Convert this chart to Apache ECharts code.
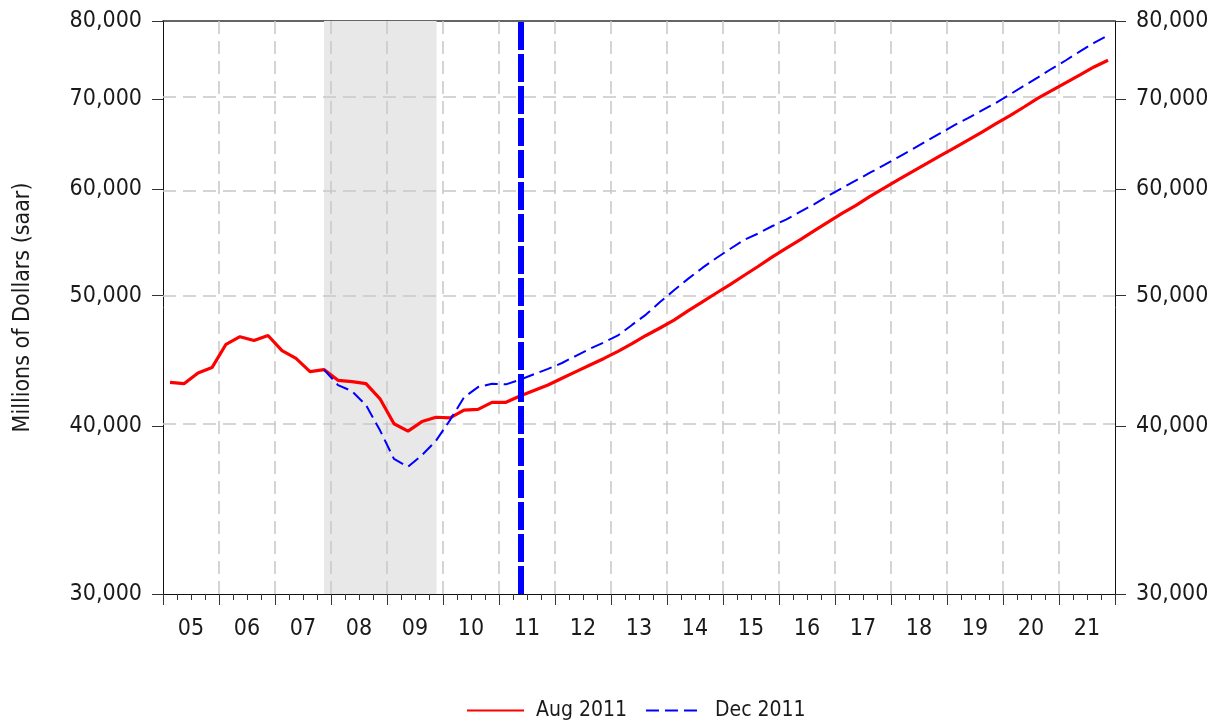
<!DOCTYPE html>
<html>
<head>
<meta charset="utf-8">
<script src="https://cdn.jsdelivr.net/npm/echarts@6/dist/echarts.min.js"></script>
<style>
  html, body { margin: 0; padding: 0; background: #ffffff; }
  #chart { width: 1215px; height: 728px; }
</style>
</head>
<body>
<div id="chart"></div>
<script>
// ---- data ----
var startYear = 2005;               // first quarter = 2005Q1
var endYear = 2022;                 // axis end (end of 2021)
var yearLabels = ['05','06','07','08','09','10','11','12','13','14','15','16','17','18','19','20','21'];
var yTicks = [30000, 40000, 50000, 60000, 70000, 80000];
var seriesNames = ['Aug 2011', 'Dec 2011'];

// Aug 2011 forecast, quarterly 2005Q1 - 2021Q4 (millions of dollars, saar)
var aug2011 = [
  43100, 43000, 43800, 44200,
  46000, 46600, 46300, 46700,
  45500, 44900, 43900, 44050,
  43250, 43150, 43000, 41900,
  40150, 39650, 40300, 40600,
  40550, 41100, 41150, 41650,
  41650, 42100, 42500, 42900,
  43400, 43900, 44400, 44900,
  45450, 46050, 46700, 47300,
  47950, 48700, 49450, 50200,
  50950, 51750, 52550, 53400,
  54200, 55000, 55850, 56700,
  57550, 58350, 59250, 60100,
  60950, 61800, 62650, 63500,
  64350, 65250, 66150, 67100,
  68050, 69050, 70100, 71050,
  72000, 72950, 73950, 74800
];

// Dec 2011 forecast, quarterly 2007Q4 - 2021Q4
var dec2011StartIndex = 11; // 2007Q4
var dec2011 = [
  44050,
  42900, 42450, 41450, 39700,
  37800, 37300, 38050, 39000,
  40400, 42000, 42750, 43000,
  42950, 43300, 43700, 44100,
  44550, 45100, 45650, 46150,
  46700, 47550, 48400, 49450,
  50450, 51450, 52400, 53300,
  54150, 55000, 55600, 56300,
  56950, 57700, 58450, 59300,
  60100, 60900, 61700, 62500,
  63350, 64200, 65100, 66000,
  66900, 67750, 68650, 69550,
  70550, 71600, 72650, 73750,
  74800, 75950, 77050, 78050
];

var recession = [2007.875, 2009.885];   // shaded period (decimal years)
var forecastLine = 2011.375;           // last history quarter marker (2011Q2)

// ---- helpers ----
function qx(i) { return startYear + (i + 0.5) / 4; }   // quarter midpoint on the year axis
function L(v) { return Math.log(v); }                   // log scale transform

var augData = aug2011.map(function (v, i) { return [qx(i), L(v)]; });
var decData = dec2011.map(function (v, i) { return [qx(i + dec2011StartIndex), L(v)]; });

var yMin = L(yTicks[0]), yMax = L(yTicks[yTicks.length - 1]);
var yCustom = yTicks.map(L);
var xLabelValues = yearLabels.map(function (s, i) { return startYear + i + 0.5; });

var FONT = "'Liberation Sans Narrow', 'DejaVu Sans Condensed', 'Arial Narrow', sans-serif";
var TXT = '#1a1a1a';
var GRID_COLOR = '#c8c8c8';

function yFmt(v) {
  var n = Math.round(Math.exp(v) / 1000) * 1000;
  return n.toLocaleString('en-US');
}

var gridLines = [];
yTicks.slice(1, -1).forEach(function (t) { gridLines.push({ yAxis: L(t) }); });
for (var y = startYear + 1; y < endYear; y++) gridLines.push({ xAxis: y });

function yAxisCfg(pos) {
  return {
    type: 'value',
    position: pos,
    min: yMin,
    max: yMax,
    axisLine: { show: true, lineStyle: { color: '#111', width: 1 } },
    axisTick: { show: true, customValues: yCustom, length: 11, lineStyle: { color: '#333' } },
    axisLabel: {
      customValues: yCustom, formatter: yFmt, margin: 21,
      fontFamily: FONT, fontSize: 23, color: TXT
    },
    splitLine: { show: false }
  };
}

var left = yAxisCfg('left');
left.name = 'Millions of Dollars (saar)';
left.nameLocation = 'middle';
left.nameGap = 128;
left.nameRotate = 90;
left.nameTextStyle = { fontFamily: FONT, fontSize: 23, color: TXT };

var option = {
  backgroundColor: '#ffffff',
  animation: false,
  grid: { left: 163, right: 100, top: 21, bottom: 134, containLabel: false, outerBoundsMode: 'none' },
  legend: {
    top: 695,
    left: 461,
    itemWidth: 57,
    itemHeight: 14,
    itemGap: 18,
    itemStyle: { opacity: 0 },
    textStyle: { fontFamily: FONT, fontSize: 21, color: TXT, padding: [0, 0, 0, 7] },
    data: seriesNames
  },
  xAxis: [{
    type: 'value',
    min: startYear,
    max: endYear,
    interval: 1,
    axisLine: { show: true, lineStyle: { color: '#111', width: 1 } },
    axisTick: { show: true, length: 11, lineStyle: { color: '#333' } },
    minorTick: { show: true, splitNumber: 4, length: 6, lineStyle: { color: '#333' } },
    axisLabel: {
      customValues: xLabelValues,
      formatter: function (v) { return yearLabels[Math.round(v - startYear - 0.5)]; },
      margin: 24, fontFamily: FONT, fontSize: 23, color: TXT
    },
    splitLine: { show: false }
  }, {
    type: 'value',
    position: 'top',
    min: startYear,
    max: endYear,
    axisLine: { show: true, lineStyle: { color: '#333', width: 1.5 } },
    axisTick: { show: false },
    axisLabel: { show: false },
    splitLine: { show: false }
  }],
  yAxis: [left, yAxisCfg('right')],
  series: [{
    name: seriesNames[0],
    type: 'line',
    data: augData,
    showSymbol: false,
    symbol: 'none',
    z: 3,
    lineStyle: { color: '#ff0000', width: 3.2 },
    itemStyle: { color: '#ff0000' },
    markArea: {
      silent: true,
      z: 1,
      itemStyle: { color: '#e8e8e8' },
      data: [[{ xAxis: recession[0] }, { xAxis: recession[1] }]]
    },
    markLine: {
      silent: true,
      z: 1.5,
      symbol: 'none',
      label: { show: false },
      lineStyle: { color: GRID_COLOR, width: 1.5, type: [13, 7] },
      data: gridLines
    }
  }, {
    name: seriesNames[1],
    type: 'line',
    data: decData,
    showSymbol: false,
    symbol: 'none',
    z: 3,
    lineStyle: { color: '#0000ff', width: 2, type: [13, 6] },
    itemStyle: { color: '#0000ff' },
    markLine: {
      silent: true,
      z: 6,
      symbol: 'none',
      label: { show: false },
      lineStyle: { color: '#0000ff', width: 6, type: [28, 4] },
      data: [{ xAxis: forecastLine }]
    }
  }]
};

var chart = echarts.init(document.getElementById('chart'), null, { renderer: 'canvas' });
chart.setOption(option);
</script>
</body>
</html>
